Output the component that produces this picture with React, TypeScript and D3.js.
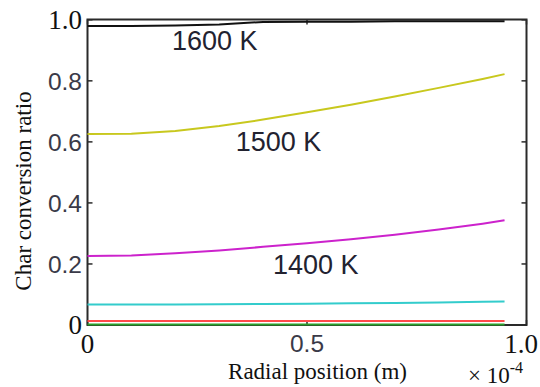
import React from "react";
import * as d3 from "d3";

const radialPos = [0, 0.1, 0.2, 0.3, 0.4, 0.5, 0.6, 0.7, 0.8, 0.9, 0.95];
const series1600 = [0.98, 0.98, 0.981, 0.985, 0.993, 0.994, 0.994, 0.995, 0.995, 0.995, 0.995];
const series1500 = [0.626, 0.627, 0.636, 0.652, 0.673, 0.697, 0.722, 0.749, 0.777, 0.806, 0.822];
const series1400 = [0.226, 0.228, 0.235, 0.244, 0.256, 0.268, 0.281, 0.296, 0.313, 0.332, 0.343];
const seriesCyan = [0.067, 0.067, 0.067, 0.068, 0.069, 0.070, 0.071, 0.072, 0.074, 0.076, 0.077];
const seriesRed = [0.013, 0.013, 0.013, 0.013, 0.013, 0.013, 0.013, 0.013, 0.013, 0.013, 0.013];
const seriesGreen = [0.002, 0.002, 0.002, 0.002, 0.002, 0.002, 0.002, 0.002, 0.002, 0.002, 0.002];

const yTicks = [0, 0.2, 0.4, 0.6, 0.8, 1.0];
const yTickLabels = ["0", "0.2", "0.4", "0.6", "0.8", "1.0"];
const xTicks = [0, 0.5, 1.0];
const xTickLabels = ["0", "0.5", "1.0"];

const curveLabels = [
  { text: "1600 K", x: 0.29, y: 0.9 },
  { text: "1500 K", x: 0.435, y: 0.57 },
  { text: "1400 K", x: 0.52, y: 0.167 },
];

const SERIF = "'Liberation Serif', 'Times New Roman', serif";
const SANS = "'Liberation Sans', Arial, sans-serif";

export default function App() {
  const W = 540, H = 387;
  const left = 87.5, right = 526.5, top = 19.5, bottom = 325;
  const x = d3.scaleLinear().domain([0, 1]).range([left, right]);
  const y = d3.scaleLinear().domain([0, 1]).range([bottom, top + 0.3]);

  const lines = [
    { data: seriesGreen, color: "#2ca02c" },
    { data: seriesRed, color: "#ff4a4a" },
    { data: seriesCyan, color: "#33cccc" },
    { data: series1400, color: "#cc22cc" },
    { data: series1500, color: "#c8c81e" },
    { data: series1600, color: "#111111" },
  ];

  const lineGen = (vals: number[]) =>
    d3.line<number>()
      .x((_, i) => x(radialPos[i]))
      .y((d) => y(d))(vals) || "";

  const serifLabel = (l: string) => l === "0" || l === "1.0";

  return (
    <svg width={W} height={H} style={{ position: "absolute", left: 0, top: 0, background: "#fff" }}>
      {/* box */}
      <rect x={left} y={top} width={right - left} height={bottom - top} fill="none" stroke="#2a2a2a" strokeWidth={2} />
      {/* y ticks */}
      {yTicks.map((t, i) => (
        <g key={"y" + i}>
          <line x1={left} x2={left + 5} y1={y(t)} y2={y(t)} stroke="#2a2a2a" strokeWidth={1.5} />
          <line x1={right} x2={right - 5} y1={y(t)} y2={y(t)} stroke="#2a2a2a" strokeWidth={1.5} />
          {serifLabel(yTickLabels[i]) ? (
            <text x={82} y={y(t) + 9} textAnchor="end" fontFamily={SERIF} fontSize={27} fill="#111">
              {yTickLabels[i]}
            </text>
          ) : (
            <text x={82} y={y(t) + 9} textAnchor="end" fontFamily={SANS} fontSize={24.5} fill="#3a3a48">
              {yTickLabels[i]}
            </text>
          )}
        </g>
      ))}
      {/* x ticks */}
      {xTicks.map((t, i) => (
        <g key={"x" + i}>
          <line x1={x(t)} x2={x(t)} y1={bottom} y2={bottom - 5} stroke="#2a2a2a" strokeWidth={1.5} />
          <line x1={x(t)} x2={x(t)} y1={top} y2={top + 5} stroke="#2a2a2a" strokeWidth={1.5} />
          {serifLabel(xTickLabels[i]) ? (
            <text x={i === xTicks.length - 1 ? 521 : x(t)} y={353} textAnchor="middle" fontFamily={SERIF} fontSize={27} fill="#111">
              {xTickLabels[i]}
            </text>
          ) : (
            <text x={x(t)} y={352} textAnchor="middle" fontFamily={SANS} fontSize={24.5} fill="#3a3a48">
              {xTickLabels[i]}
            </text>
          )}
        </g>
      ))}
      {lines.map((s, i) => (
        <path key={i} d={lineGen(s.data)} fill="none" stroke={s.color} strokeWidth={2} />
      ))}
      {/* curve labels */}
      {curveLabels.map((c, i) => (
        <text key={"c" + i} x={x(c.x)} y={y(c.y)} textAnchor="middle" fontFamily={SANS} fontSize={27} fill="#222230">
          {c.text}
        </text>
      ))}
      {/* axis titles */}
      <text x={317.5} y={379} textAnchor="middle" fontFamily={SERIF} fontSize={23} fill="#111">
        Radial position (m)
      </text>
      <text transform="translate(31,191) rotate(-90)" textAnchor="middle" fontFamily={SERIF} fontSize={23} fill="#111">
        Char conversion ratio
      </text>
      <text x={468} y={383} fontFamily={SERIF} fontSize={23} fill="#111">
        × 10
        <tspan dy={-10} fontSize={16}>-4</tspan>
      </text>
    </svg>
  );
}
